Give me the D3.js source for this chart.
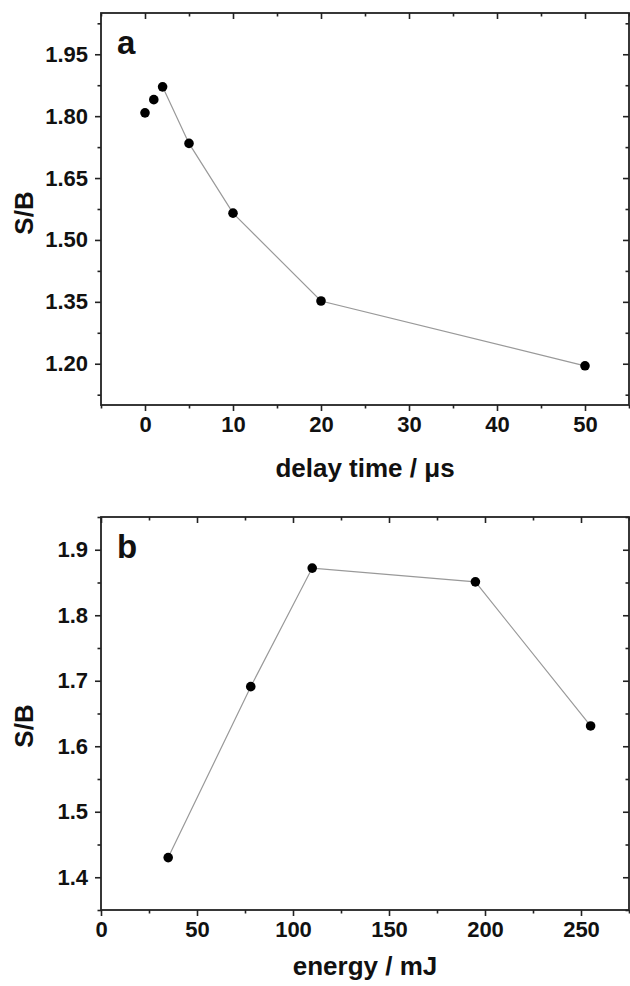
<!DOCTYPE html>
<html>
<head>
<meta charset="utf-8">
<script src="https://cdn.jsdelivr.net/npm/d3@7"></script>
<style>
  html, body { margin: 0; padding: 0; background: #fff; }
  svg text { font-family: "Liberation Sans", Arial, sans-serif; font-weight: bold; fill: #111; }
</style>
</head>
<body>
<div id="chart"></div>
<script>
// panel a: S/B vs delay time
const delayTimes = [0, 1, 2, 5, 10, 20, 50];
const delaySB = [1.808, 1.840, 1.871, 1.734, 1.565, 1.352, 1.195];
const delayLineStart = 2; // line only joins points from the third one on
const delayTicksMajor = [0, 10, 20, 30, 40, 50];
const delayTicksMinor = [-5, 5, 15, 25, 35, 45, 55];
const delaySBTicksMajor = [1.20, 1.35, 1.50, 1.65, 1.80, 1.95];
const delaySBTicksMinor = [1.125, 1.275, 1.425, 1.575, 1.725, 1.875, 2.025];

// panel b: S/B vs energy
const energies = [35, 78, 110, 195, 255];
const energySB = [1.430, 1.691, 1.872, 1.851, 1.631];
const energyTicksMajor = [0, 50, 100, 150, 200, 250];
const energyTicksMinor = [25, 75, 125, 175, 225, 275];
const energySBTicksMajor = [1.4, 1.5, 1.6, 1.7, 1.8, 1.9];
const energySBTicksMinor = [1.35, 1.45, 1.55, 1.65, 1.75, 1.85, 1.95];

const width = 630, height = 986;
const svg = d3.select("#chart").append("svg")
  .attr("width", width)
  .attr("height", height);

function drawPanel(opts) {
  const { top, bottom, left, right, xDomain, yDomain, xs, ys, lineStart,
          xMajor, xMinor, yMajor, yMinor, yFormat, letter, xTitle, xTitleGap, yTitleY } = opts;

  const x = d3.scaleLinear().domain(xDomain).range([left, right]);
  const y = d3.scaleLinear().domain(yDomain).range([bottom, top]);
  const g = svg.append("g");

  const major = 6, minor = 3.5;

  // bottom axis (ticks outward, labelled)
  const bx = g.append("g").attr("transform", `translate(0,${bottom})`);
  bx.call(d3.axisBottom(x).tickValues(xMajor).tickSize(major).tickPadding(5).tickFormat(d3.format("d")));
  bx.append("g").call(d3.axisBottom(x).tickValues(xMinor).tickSize(minor).tickFormat(""));
  // left axis (ticks outward, labelled)
  const ly = g.append("g").attr("transform", `translate(${left},0)`);
  ly.call(d3.axisLeft(y).tickValues(yMajor).tickSize(major).tickPadding(7).tickFormat(d3.format(yFormat)));
  ly.append("g").call(d3.axisLeft(y).tickValues(yMinor).tickSize(minor).tickFormat(""));
  // top axis (ticks inward)
  const tx = g.append("g").attr("transform", `translate(0,${top})`);
  tx.call(d3.axisTop(x).tickValues(xMajor).tickSize(-major).tickFormat(""));
  tx.append("g").call(d3.axisTop(x).tickValues(xMinor).tickSize(-minor).tickFormat(""));
  // right axis (ticks inward)
  const ry = g.append("g").attr("transform", `translate(${right},0)`);
  ry.call(d3.axisRight(y).tickValues(yMajor).tickSize(-major).tickFormat(""));
  ry.append("g").call(d3.axisRight(y).tickValues(yMinor).tickSize(-minor).tickFormat(""));

  g.selectAll(".domain").remove();
  g.selectAll(".tick line").attr("stroke", "#222").attr("stroke-width", 1.6);
  g.selectAll(".tick text").attr("font-size", 22).attr("fill", "#111")
    .style("font-weight", "bold");

  // frame
  g.append("rect")
    .attr("x", left).attr("y", top)
    .attr("width", right - left).attr("height", bottom - top)
    .attr("fill", "none").attr("stroke", "#222").attr("stroke-width", 1.8);

  const pts = xs.map((v, i) => ({ x: v, y: ys[i] }));

  g.append("path")
    .datum(pts.slice(lineStart))
    .attr("fill", "none")
    .attr("stroke", "#999")
    .attr("stroke-width", 1.2)
    .attr("d", d3.line().x(d => x(d.x)).y(d => y(d.y)));

  g.selectAll("circle.pt")
    .data(pts)
    .join("circle")
    .attr("class", "pt")
    .attr("cx", d => x(d.x))
    .attr("cy", d => y(d.y))
    .attr("r", 4.8)
    .attr("fill", "#000");

  g.append("text")
    .attr("x", left + 16).attr("y", top + 41)
    .attr("font-size", 33)
    .text(letter);

  g.append("text")
    .attr("x", (left + right) / 2).attr("y", bottom + xTitleGap)
    .attr("text-anchor", "middle")
    .attr("font-size", 26)
    .text(xTitle);

  g.append("text")
    .attr("transform", `translate(33,${yTitleY}) rotate(-90)`)
    .attr("text-anchor", "middle")
    .attr("font-size", 26)
    .text("S/B");
}

drawPanel({
  top: 13, bottom: 405, left: 101, right: 629,
  xDomain: [-5, 55], yDomain: [1.10, 2.05],
  xs: delayTimes, ys: delaySB, lineStart: delayLineStart,
  xMajor: delayTicksMajor, xMinor: delayTicksMinor,
  yMajor: delaySBTicksMajor, yMinor: delaySBTicksMinor, yFormat: ".2f",
  letter: "a", xTitle: "delay time / \u03bcs", xTitleGap: 72, yTitleY: 213
});

drawPanel({
  top: 517, bottom: 910, left: 101, right: 629,
  xDomain: [0, 275], yDomain: [1.35, 1.95],
  xs: energies, ys: energySB, lineStart: 0,
  xMajor: energyTicksMajor, xMinor: energyTicksMinor,
  yMajor: energySBTicksMajor, yMinor: energySBTicksMinor, yFormat: ".1f",
  letter: "b", xTitle: "energy / mJ", xTitleGap: 65, yTitleY: 726
});
</script>
</body>
</html>
